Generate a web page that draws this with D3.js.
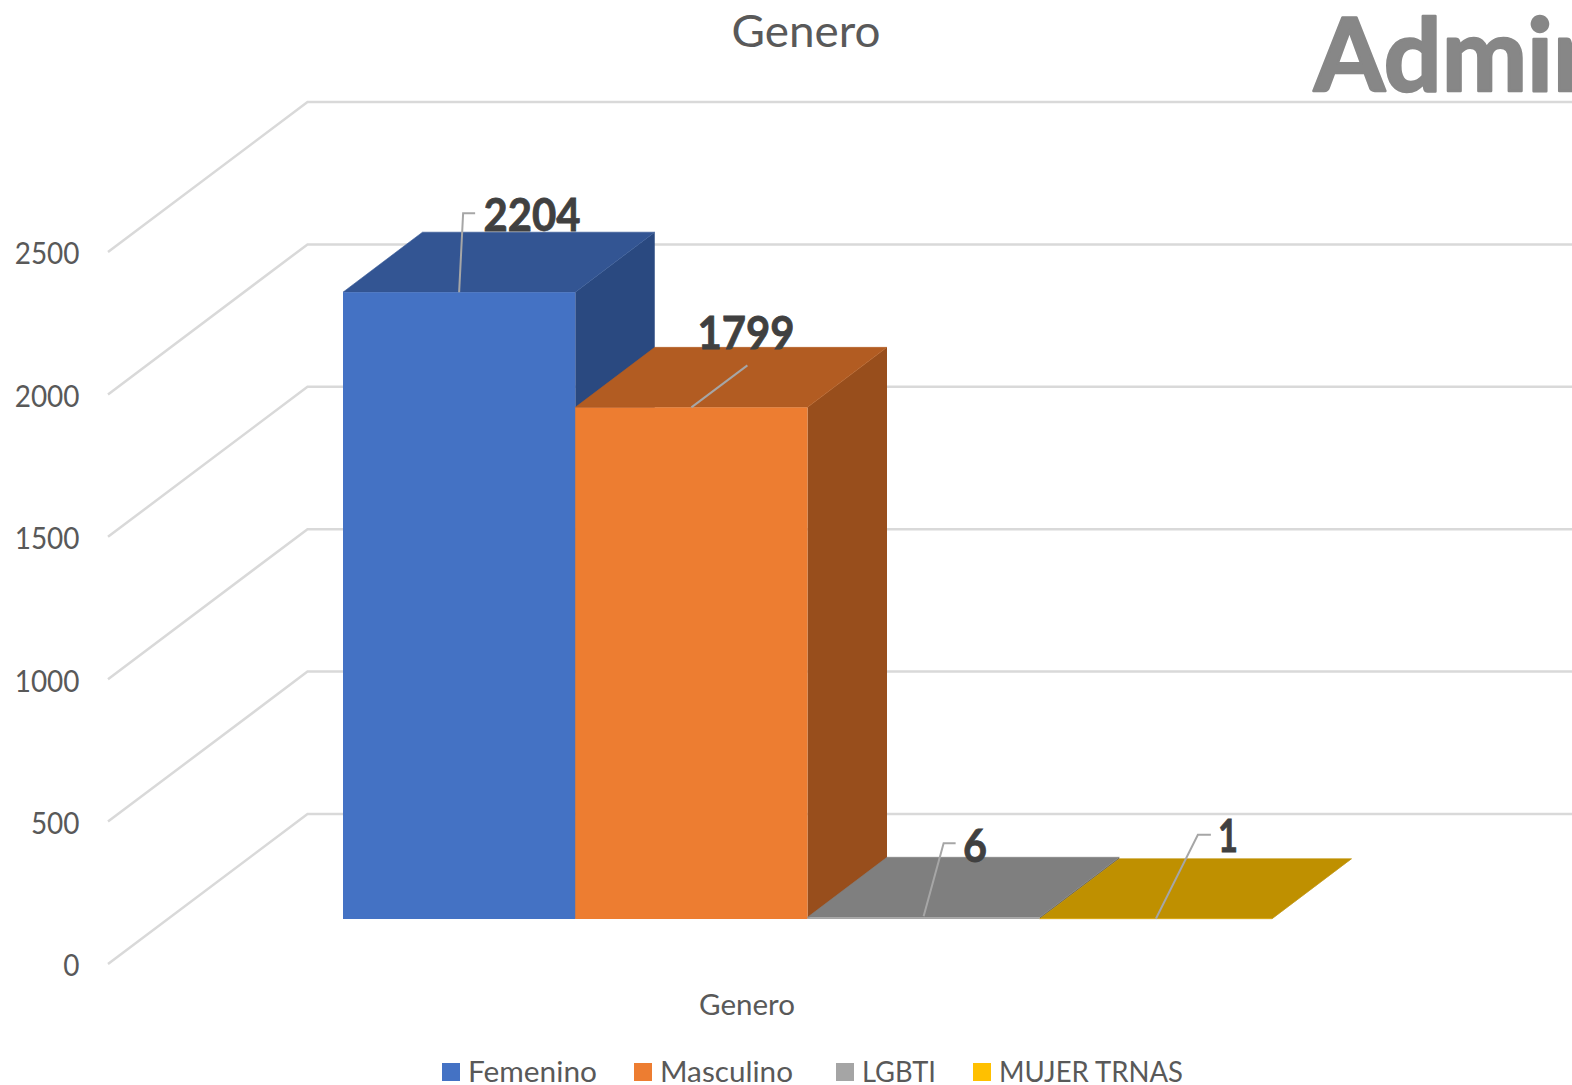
<!DOCTYPE html>
<html><head><meta charset="utf-8">
<script src="https://cdnjs.cloudflare.com/ajax/libs/d3/7.8.5/d3.min.js"></script>
<style>html,body{margin:0;padding:0;background:#fff;overflow:hidden}svg{display:block;font-family:Lato,Carlito,sans-serif}</style>
</head><body><svg id="c" width="1572" height="1085"></svg>
<script>
const categories = ["Femenino","Masculino","LGBTI","MUJER TRNAS"];
const values = [2204,1799,6,1];
const yTicks = [0,500,1000,1500,2000,2500];
const frontColors = ["#4472c4","#ed7d31","#a5a5a5","#ffc000"];
const topColors = ["#335593","#b25c22","#7f7f7f","#bf9000"];
const sideColors = ["#2a4980","#984e1c","#636363","#8f6c00"];

const svg = d3.select("#c");
const depthX = 79.5, depthY = 60;
const y = d3.scaleLinear().domain([0,2500]).range([919,208]);
const x = d3.scaleBand().domain(categories).range([343,1272]).padding(0);
const gridY = d3.scaleLinear().domain([0,2500]).range([814,102]);
const tickY = d3.scaleLinear().domain([0,2500]).range([964,252]);

function fit(sel,w){ return sel.attr("textLength",w).attr("lengthAdjust","spacingAndGlyphs"); }

// walls
const grid = svg.append("g").attr("fill","none").attr("stroke","#d9d9d9").attr("stroke-width",2.5);
grid.selectAll("path").data(yTicks).join("path")
  .attr("d",d=>d3.line()([[108,tickY(d)],[307.5,gridY(d)],[1572,gridY(d)]]));

// axis labels
svg.append("g").attr("transform","translate(79.5,1)")
  .call(d3.axisLeft(tickY).tickValues(yTicks).tickSize(0).tickPadding(0).tickFormat(d3.format("d")))
  .call(g=>g.select(".domain").remove())
  .call(g=>g.selectAll("text").attr("fill","#595959").attr("font-size",30).attr("font-family","Lato,sans-serif")
     .attr("dy","0.36em")
     .each(function(d){ d3.select(this).attr("textLength",String(d).length*16.2).attr("lengthAdjust","spacingAndGlyphs"); }));

// bars
const bars = svg.append("g").selectAll("g").data(categories).join("g");
bars.append("path").attr("fill",(d,i)=>sideColors[i]).attr("d",(d,i)=>{
  const r=x(d)+x.bandwidth(), t=y(values[i]), b=y(0);
  return `M${r},${t}L${r+depthX},${t-depthY}L${r+depthX},${b-depthY}L${r},${b}Z`;});
bars.append("path").attr("fill",(d,i)=>topColors[i]).attr("stroke",(d,i)=>topColors[i]).attr("stroke-width",0.6).attr("d",(d,i)=>{
  const l=x(d), r=l+x.bandwidth(), t=y(values[i]);
  return `M${l},${t}L${l+depthX},${t-depthY}L${r+depthX},${t-depthY}L${r},${t}Z`;});
bars.append("rect").attr("fill",(d,i)=>frontColors[i])
  .attr("x",d=>x(d)).attr("width",x.bandwidth())
  .attr("y",(d,i)=>y(values[i])).attr("height",(d,i)=>y(0)-y(values[i]));

// leader lines + data labels
const leaderOffsets = [
  [[0,0],[4,-79],[16,-79]],
  [[0,0],[56,-42]],
  [[0,-1],[20,-74],[32,-74]],
  [[0,0],[42,-84],[55,-84]]
];
const labelPos = [[532,231,97],[746,349,97],[975,862,24],[1228,852,20]];
const lab = svg.append("g");
categories.forEach((c,i)=>{
  const cx=x(c)+x.bandwidth()/2, cy=y(values[i]);
  lab.append("path").attr("fill","none").attr("stroke","#a6a6a6").attr("stroke-width",2)
    .attr("d",d3.line()(leaderOffsets[i].map(p=>[cx+p[0],cy+p[1]])));
  fit(lab.append("text").attr("x",labelPos[i][0]).attr("y",labelPos[i][1]).attr("text-anchor","middle")
    .attr("font-weight",700).attr("font-size",46).attr("fill","#404040")
    .attr("stroke","#404040").attr("stroke-width",0.8).text(values[i]),labelPos[i][2]);
});

// titles
fit(svg.append("text").attr("x",806).attr("y",47).attr("text-anchor","middle").attr("font-size",44).attr("fill","#595959").text("Genero"),149);
fit(svg.append("text").attr("x",747).attr("y",1015).attr("text-anchor","middle").attr("font-size",29).attr("fill","#595959").text("Genero"),96);
svg.append("text").attr("x",1314).attr("y",91).attr("font-size",102).attr("font-weight",700).attr("fill","#878787")
  .attr("stroke","#878787").attr("stroke-width",2.5).attr("stroke-linejoin","round").text("Admin");

// legend
const legX=[442,634,836,973], legT=[468,660,862,999], legW=[129,133,74,184];
const leg=svg.append("g").selectAll("g").data(categories).join("g");
leg.append("rect").attr("x",(d,i)=>legX[i]).attr("y",1063).attr("width",18).attr("height",18).attr("fill",(d,i)=>frontColors[i]);
leg.append("text").attr("x",(d,i)=>legT[i]).attr("y",1082).attr("font-size",29).attr("fill","#595959").text(d=>d)
  .attr("textLength",(d,i)=>legW[i]).attr("lengthAdjust","spacingAndGlyphs");
</script></body></html>
